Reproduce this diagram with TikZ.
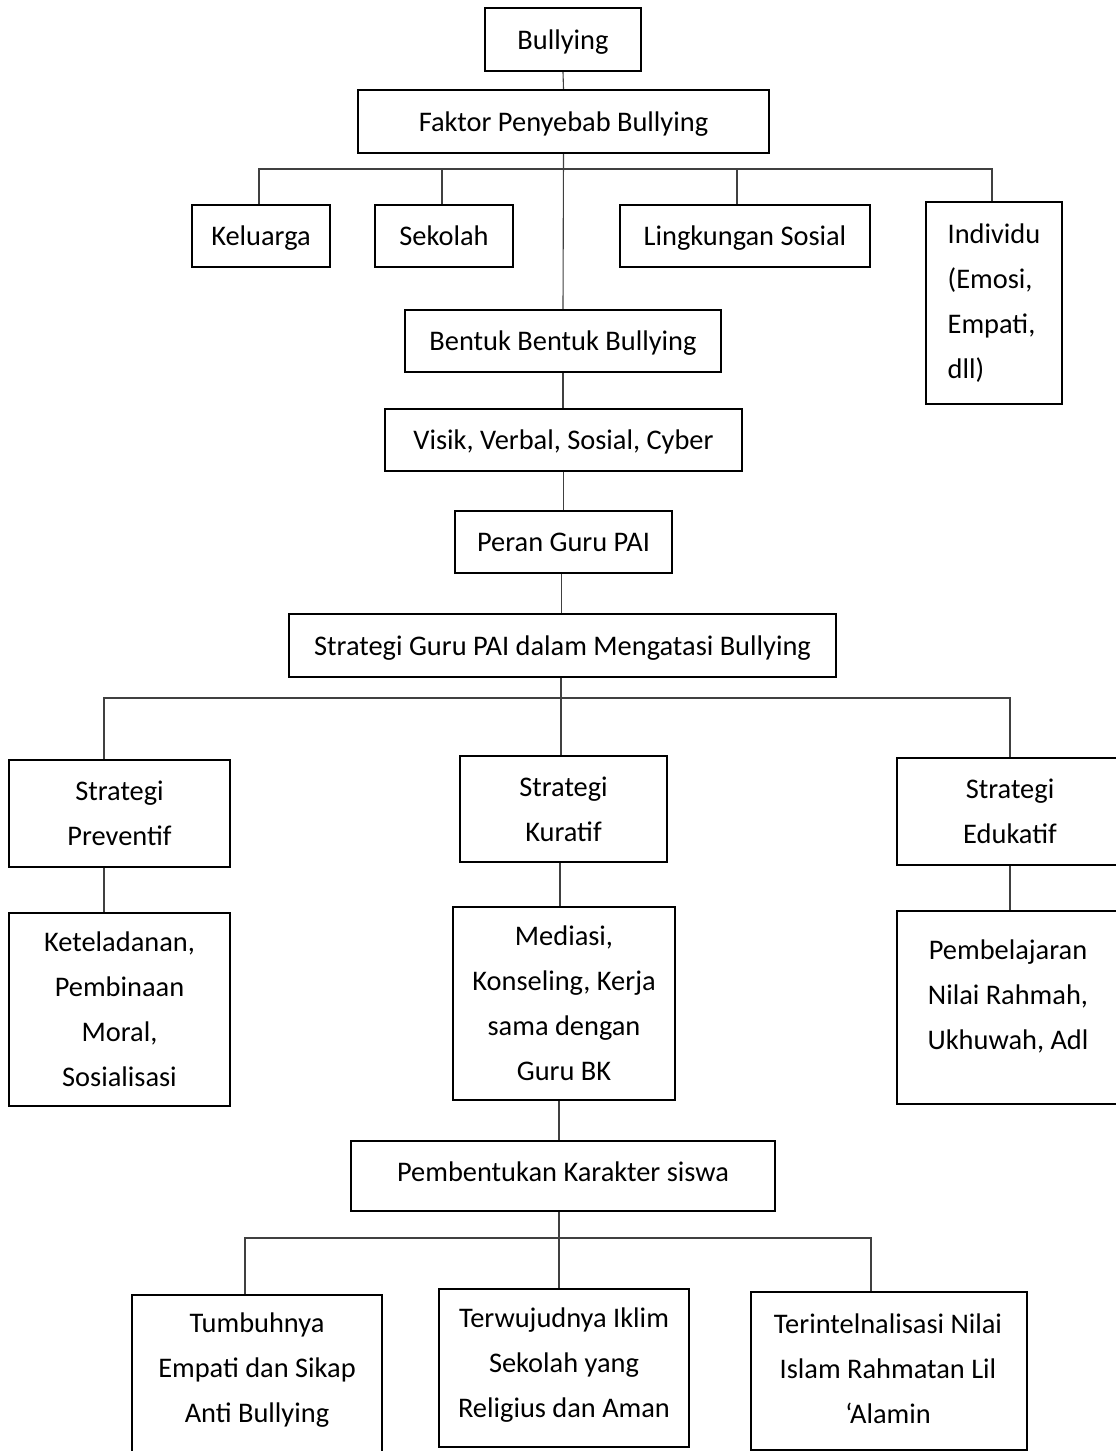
\documentclass[tikz,border=0pt]{standalone}
\usepackage{fontspec}
\setmainfont{Carlito}
\begin{document}
\begin{tikzpicture}[x=1pt,y=-1pt,
  box/.style={draw=black, line width=2.2pt, inner sep=0pt, align=center,
    font=\fontsize{28.4pt}{45pt}\selectfont},
  one/.style={text height=25pt, text depth=6pt},
  txt/.style={inner sep=0pt, align=center, font=\fontsize{28.4pt}{45pt}\selectfont},
  conn/.style={line width=1.1pt, draw=black!75}]
\useasboundingbox (0,0) rectangle (1116,1451);

% top part
\node[box, one, minimum width=156pt, minimum height=63pt] (bul) at (563,39.5) {Bullying};
\node[box, one, minimum width=411pt, minimum height=63pt] (fak) at (563.5,121.5) {Faktor Penyebab Bullying};
\node[box, one, minimum width=138pt, minimum height=62pt] (kel) at (261,236) {Keluarga};
\node[box, one, minimum width=138pt, minimum height=62pt] (sek) at (444,236) {Sekolah};
\node[box, one, minimum width=250pt, minimum height=62pt] (lin) at (745,236) {Lingkungan Sosial};
\node[box, minimum width=136pt, minimum height=202pt, align=left] (ind) at (994,303) {Individu\\(Emosi,\\Empati,\\dll)};
\node[box, one, minimum width=316pt, minimum height=62pt] (ben) at (563,341) {Bentuk Bentuk Bullying};
\node[box, one, minimum width=357pt, minimum height=62pt] (vis) at (563.5,440) {Visik, Verbal, Sosial, Cyber};
\node[box, one, minimum width=217pt, minimum height=62pt] (per) at (563.5,542) {Peran Guru PAI};
\node[box, one, minimum width=547pt, minimum height=63pt] (str) at (562.5,645.5) {Strategi Guru PAI dalam Mengatasi Bullying};

% strategies
\node[box, minimum width=221pt, minimum height=107pt] (pre) at (119.5,813.5) {Strategi\\Preventif};
\node[box, minimum width=207pt, minimum height=106pt] (kur) at (563.5,809) {Strategi\\Kuratif};
\node[box, minimum width=226pt, minimum height=107pt] (edu) at (1010,811.5) {Strategi\\Edukatif};
\node[box, minimum width=221pt, minimum height=193pt] (ket) at (119.5,1009.5) {Keteladanan,\\Pembinaan\\Moral,\\Sosialisasi};
\node[box, minimum width=222pt, minimum height=193pt] (med) at (564,1003.5) {Mediasi,\\Konseling, Kerja\\sama dengan\\Guru BK};
\node[box, minimum width=226pt, minimum height=193pt] (pbl) at (1010,1007.5) {};
\node[txt] (pblt) at (1008,996) {Pembelajaran\\Nilai Rahmah,\\Ukhuwah, Adl};

% character
\node[box, minimum width=424pt, minimum height=70pt] (pkr) at (563,1176) {};
\node[txt, one] (pkrt) at (563,1172) {Pembentukan Karakter siswa};
\node[box, minimum width=250pt, minimum height=175pt] (tum) at (257,1382.5) {};
\node[txt] (tumt) at (257,1370) {Tumbuhnya\\Empati dan Sikap\\Anti Bullying};
\node[box, minimum width=250pt, minimum height=158pt] (ter) at (564,1368) {};
\node[txt] (tert) at (564,1365) {Terwujudnya Iklim\\Sekolah yang\\Religius dan Aman};
\node[box, minimum width=276pt, minimum height=158pt] (tin) at (889,1371) {};
\node[txt] (tint) at (888,1369) {Terintelnalisasi Nilai\\Islam Rahmatan Lil\\‘Alamin};

% connectors top
\coordinate (bus1) at (563,169);
\draw[conn] (bul.south) -- (fak.north);
\draw[conn] (fak.south) -- (ben.north);
\draw[conn] ([xshift=-2pt]kel.north) |- (bus1);
\draw[conn] ([xshift=-2pt]ind.north) |- (bus1);
\draw[conn] ([xshift=-2pt]sek.north) -- ([xshift=-2pt]sek.north |- bus1);
\draw[conn] ([xshift=-8pt]lin.north) -- ([xshift=-8pt]lin.north |- bus1);
\draw[conn] (ben.south) -- (ben.south |- vis.north);
\draw[conn] (vis.south) -- (vis.south |- per.north);
\draw[conn] ([xshift=-2pt]per.south) -- ([xshift=-2pt]per.south |- str.north);

% connectors strategies
\coordinate (bus2) at (561,698);
\draw[conn] (str.south -| bus2) -- (bus2);
\draw[conn] ([xshift=-15.5pt]pre.north) |- (bus2);
\draw[conn] (edu.north) |- (bus2);
\draw[conn] (kur.north -| bus2) -- (bus2);
\draw[conn] ([xshift=-15.5pt]pre.south) -- ([xshift=-15.5pt]ket.north);
\draw[conn] ([xshift=-3.5pt]kur.south) -- ([xshift=-3.5pt]kur.south |- med.north);
\draw[conn] (edu.south) -- (pbl.north);

% connectors character
\coordinate (bus3) at (559,1238);
\draw[conn] (med.south -| bus3) -- (pkr.north -| bus3);
\draw[conn] (pkr.south -| bus3) -- (bus3);
\draw[conn] ([xshift=-12pt]tum.north) |- (bus3);
\draw[conn] ([xshift=-18pt]tin.north) |- (bus3);
\draw[conn] (ter.north -| bus3) -- (bus3);
\end{tikzpicture}
\end{document}
